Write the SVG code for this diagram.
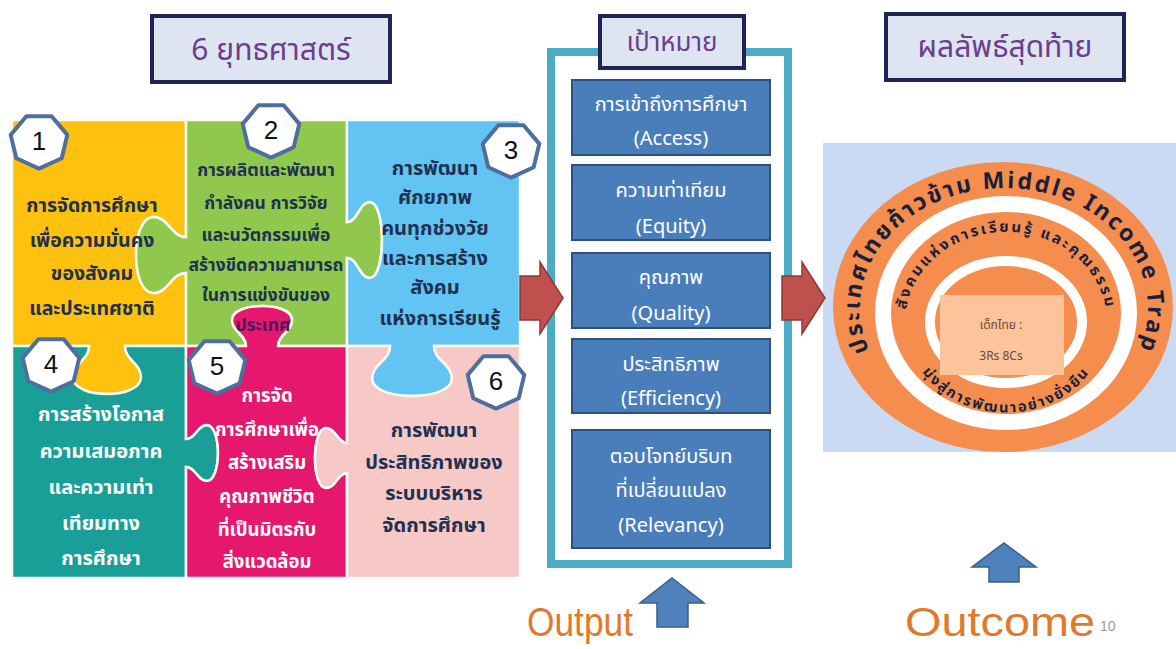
<svg xmlns="http://www.w3.org/2000/svg" width="1176" height="649" viewBox="0 0 1176 649">
<style>
.th{font-family:"Noto Sans Thai","Noto Sans","Liberation Sans",sans-serif}
.pz{font-family:"Noto Sans Thai","Noto Sans","Liberation Sans",sans-serif;font-weight:bold;text-anchor:middle}
.dk{fill:#1f3050}
.wh{fill:#ffffff}
.piece{stroke:#fbfbf6;stroke-width:2.5}
.hex{fill:#ffffff;stroke:#4e6f9e;stroke-width:4;stroke-linejoin:round}
.num{font-family:"Liberation Sans",sans-serif;font-size:26px;text-anchor:middle;fill:#111}
.title{fill:#dfe5f0;stroke:#1c2554;stroke-width:4}
.ttx{font-size:30px;fill:#6b3d8e;text-anchor:middle}
.goal{fill:#4a7ebb;stroke:#2c4f7c;stroke-width:2}
.gtx{font-size:20px;fill:#ffffff;text-anchor:middle}
.red{fill:#c0504d;stroke:#8c3836;stroke-width:1.5}
.blu{fill:#4f81bd;stroke:#385d8a;stroke-width:1.5}
.ring{font-family:"Noto Sans Thai","Noto Sans","Liberation Sans",sans-serif;font-weight:bold;fill:#1a1f3a}
.big{font-family:"Liberation Sans",sans-serif;font-size:41px;fill:#e07a2a}
</style>
<defs>
<polygon id="hept" points="0,27.6 -22.7,17.2 -28.3,-6.1 -12.6,-24.8 12.6,-24.8 28.3,-6.1 22.7,17.2"/>
<path id="arcOuter" d="M867,345 A144 120 0 1 1 1141,345"/>
<path id="arcMid" d="M906.9,339.2 A101 90 0 1 1 1105.1,339.2"/>
<path id="arcLow" d="M919.4,368 A100 89 0 0 0 1092.6,368"/>
</defs>
<rect width="1176" height="649" fill="#ffffff"/>

<g id="piece1">
<path class="piece" fill="#fdc10e" d="M12,120 L186,120 L186,237 C171,237 168.5,217 153.5,217 C130.2,217 130.2,293 153.5,293 C168.5,293 171,273 186,273 L186,346 L125,346 C125,360.4 141,362.8 141,377.2 C141,399.6 73,399.6 73,377.2 C73,362.8 89,360.4 89,346 L12,346 Z"/>
</g>
<g id="piece2">
<path class="piece" fill="#90c84e" d="M186,120 L347,120 L347,222 C357.5,222 359.25,202 369.75,202 C386.1,202 386.1,278 369.75,278 C359.25,278 357.5,258 347,258 L347,346 L278,346 C278,334 292,332 292,320 C292,301.3 232,301.3 232,320 C232,332 246,334 246,346 L186,346 L186,273 C171,273 168.5,293 153.5,293 C130.2,293 130.2,217 153.5,217 C168.5,217 171,237 186,237 Z"/>
</g>
<g id="piece3">
<path class="piece" fill="#62c4f2" d="M347,120 L520,120 L520,346 L434,346 C434,361 452,363.5 452,378.5 C452,401.85 372,401.85 372,378.5 C372,363.5 390,361 390,346 L347,346 L347,258 C357.5,258 359.25,278 369.75,278 C386.1,278 386.1,202 369.75,202 C359.25,202 357.5,222 347,222 Z"/>
</g>
<g id="piece4">
<path class="piece" fill="#1a9f98" d="M12,346 L89,346 C89,360.4 73,362.8 73,377.2 C73,399.6 141,399.6 141,377.2 C141,362.8 125,360.4 125,346 L186,346 L186,439 C195.6,439 197.2,425 206.8,425 C221.7,425 221.7,481 206.8,481 C197.2,481 195.6,467 186,467 L186,578 L12,578 Z"/>
</g>
<g id="piece5">
<path class="piece" fill="#e5186e" d="M186,346 L246,346 C246,334 232,332 232,320 C232,301.3 292,301.3 292,320 C292,332 278,334 278,346 L347,346 L347,443 C337.4,443 335.8,428 326.2,428 C311.3,428 311.3,488 326.2,488 C335.8,488 337.4,473 347,473 L347,578 L186,578 L186,467 C195.6,467 197.2,481 206.8,481 C221.7,481 221.7,425 206.8,425 C197.2,425 195.6,439 186,439 Z"/>
</g>
<g id="piece6">
<path class="piece" fill="#f6c8c6" d="M347,346 L390,346 C390,361 372,363.5 372,378.5 C372,401.85 452,401.85 452,378.5 C452,363.5 434,361 434,346 L520,346 L520,578 L347,578 L347,473 C337.4,473 335.8,488 326.2,488 C311.3,488 311.3,428 326.2,428 C335.8,428 337.4,443 347,443 Z"/>
</g>

<g id="text1" class="pz dk" font-size="19.5">
<text x="92" y="212">การจัดการศึกษา</text>
<text x="92" y="247">เพื่อความมั่นคง</text>
<text x="92" y="280">ของสังคม</text>
<text x="92" y="315">และประเทศชาติ</text>
</g>
<g id="text2" class="pz dk" font-size="17.5">
<text x="266" y="176">การผลิตและพัฒนา</text>
<text x="266" y="209">กำลังคน การวิจัย</text>
<text x="266" y="241">และนวัตกรรมเพื่อ</text>
<text x="266" y="271">สร้างขีดความสามารถ</text>
<text x="266" y="301">ในการแข่งขันของ</text>
<text x="263" y="331" fill="#4a1a5a">ประเทศ</text>
</g>
<g id="text3" class="pz dk" font-size="20">
<text x="435" y="175">การพัฒนา</text>
<text x="435" y="204">ศักยภาพ</text>
<text x="435" y="235">คนทุกช่วงวัย</text>
<text x="435" y="265">และการสร้าง</text>
<text x="435" y="294">สังคม</text>
<text x="440" y="325">แห่งการเรียนรู้</text>
</g>
<g id="text4" class="pz wh" font-size="20">
<text x="101" y="421">การสร้างโอกาส</text>
<text x="101" y="458">ความเสมอภาค</text>
<text x="101" y="494">และความเท่า</text>
<text x="101" y="530">เทียมทาง</text>
<text x="101" y="565">การศึกษา</text>
</g>
<g id="text5" class="pz wh" font-size="18.5">
<text x="267" y="402">การจัด</text>
<text x="267" y="436">การศึกษาเพื่อ</text>
<text x="267" y="469">สร้างเสริม</text>
<text x="267" y="503">คุณภาพชีวิต</text>
<text x="267" y="536">ที่เป็นมิตรกับ</text>
<text x="267" y="568">สิ่งแวดล้อม</text>
</g>
<g id="text6" class="pz dk" font-size="20">
<text x="434" y="437">การพัฒนา</text>
<text x="434" y="469">ประสิทธิภาพของ</text>
<text x="434" y="500">ระบบบริหาร</text>
<text x="434" y="532">จัดการศึกษา</text>
</g>

<g id="badges">
<use href="#hept" class="hex" x="39" y="141"/>
<text class="num" x="39" y="150">1</text>
<use href="#hept" class="hex" x="271" y="130"/>
<text class="num" x="271" y="139">2</text>
<use href="#hept" class="hex" x="511" y="150"/>
<text class="num" x="511" y="159">3</text>
<use href="#hept" class="hex" x="51" y="364"/>
<text class="num" x="51" y="373">4</text>
<use href="#hept" class="hex" x="217" y="366"/>
<text class="num" x="217" y="375">5</text>
<use href="#hept" class="hex" x="496" y="381"/>
<text class="num" x="496" y="390">6</text>
</g>

<g id="title-strategy">
<rect class="title" x="152" y="16" width="238" height="66"/>
<text class="th ttx" x="271" y="60">6 ยุทธศาสตร์</text>
</g>

<g id="goals-frame">
<rect x="551" y="52" width="237" height="512" fill="#ffffff" stroke="#4bacc6" stroke-width="8"/>
</g>
<g id="title-goal">
<rect class="title" x="600" y="16" width="144" height="52"/>
<text class="th ttx" x="672" y="51" style="font-size:26px">เป้าหมาย</text>
</g>
<g id="goal1">
<rect class="goal" x="572" y="80" width="198" height="75"/>
<text class="th gtx" x="671" y="111">การเข้าถึงการศึกษา</text>
<text class="th gtx" x="671" y="145">(Access)</text>
</g>
<g id="goal2">
<rect class="goal" x="572" y="165" width="198" height="75"/>
<text class="th gtx" x="671" y="197">ความเท่าเทียม</text>
<text class="th gtx" x="671" y="233">(Equity)</text>
</g>
<g id="goal3">
<rect class="goal" x="572" y="253" width="198" height="75"/>
<text class="th gtx" x="671" y="284">คุณภาพ</text>
<text class="th gtx" x="671" y="320">(Quality)</text>
</g>
<g id="goal4">
<rect class="goal" x="572" y="339" width="198" height="74"/>
<text class="th gtx" x="671" y="371">ประสิทธิภาพ</text>
<text class="th gtx" x="671" y="405">(Efficiency)</text>
</g>
<g id="goal5">
<rect class="goal" x="572" y="430" width="198" height="118"/>
<text class="th gtx" x="671" y="463">ตอบโจทย์บริบท</text>
<text class="th gtx" x="671" y="497">ที่เปลี่ยนแปลง</text>
<text class="th gtx" x="671" y="532">(Relevancy)</text>
</g>

<g id="title-outcome">
<rect class="title" x="886" y="14" width="238" height="66"/>
<text class="th ttx" x="1005" y="57">ผลลัพธ์สุดท้าย</text>
</g>

<g id="outcome-panel">
<rect x="823" y="143" width="353" height="309" fill="#c9daf2"/>
<ellipse cx="1003" cy="307" rx="170" ry="145" fill="#f58d4f"/>
<ellipse cx="1006" cy="313" rx="123" ry="109" fill="none" stroke="#ffffff" stroke-width="16"/>
<ellipse cx="1006" cy="322" rx="76" ry="61" fill="none" stroke="#ffffff" stroke-width="10"/>
<text class="ring" font-size="23" letter-spacing="2.5"><textPath href="#arcOuter" startOffset="50%" text-anchor="middle">ประเทศไทยก้าวข้าม Middle Income Trap</textPath></text>
<text class="ring" font-size="15" letter-spacing="2.5"><textPath href="#arcMid" startOffset="50%" text-anchor="middle">สังคมแห่งการเรียนรู้ และคุณธรรม</textPath></text>
<text class="ring" font-size="14.5" letter-spacing="2"><textPath href="#arcLow" startOffset="50%" text-anchor="middle">มุ่งสู่การพัฒนาอย่างยั่งยืน</textPath></text>
<rect x="940" y="295" width="124" height="80" fill="#fbc49a"/>
<text class="th" x="1001" y="329" font-size="12" fill="#6b4a3a" text-anchor="middle">เด็กไทย :</text>
<text class="th" x="1001" y="360" font-size="12" fill="#6b4a3a" text-anchor="middle">3Rs 8Cs</text>
</g>

<g id="connectors">
<path class="red" d="M520,276 L540,276 L540,262 L563,298 L540,334 L540,320 L520,320 Z"/>
<path class="red" d="M782,276 L802,276 L802,262 L825,298 L802,334 L802,320 L782,320 Z"/>
<path class="blu" d="M672,578 L704,603 L688,603 L688,627 L657,627 L657,603 L640,603 Z"/>
<path class="blu" d="M1004,543 L1036,567 L1019,567 L1019,582 L989,582 L989,567 L972,567 Z"/>
</g>

<g id="labels">
<text class="big" x="527" y="636" textLength="106" lengthAdjust="spacingAndGlyphs">Output</text>
<text class="big" x="905" y="636" textLength="190" lengthAdjust="spacingAndGlyphs">Outcome</text>
<text x="1100" y="631" font-family="Liberation Sans,sans-serif" font-size="14" fill="#999999">10</text>
</g>
</svg>
